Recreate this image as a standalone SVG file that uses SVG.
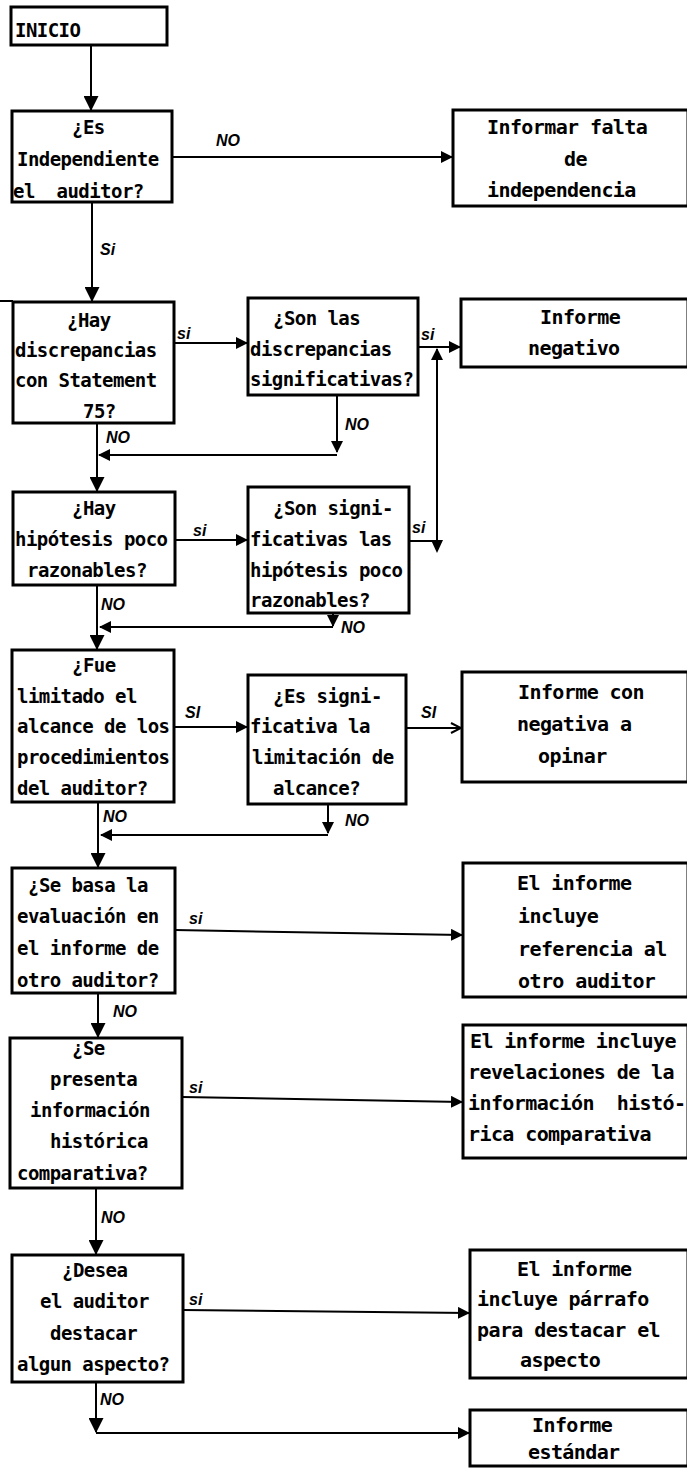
<svg xmlns="http://www.w3.org/2000/svg" width="687" height="1470" viewBox="0 0 687 1470" xml:space="preserve">
<style>
.box{fill:#fff;stroke:#000;stroke-width:3}
.ln{fill:none;stroke:#000;stroke-width:2}
.t{font-family:"DejaVu Sans Mono","Liberation Mono",monospace;font-size:19px;letter-spacing:-0.55px;font-weight:bold;fill:#000;white-space:pre}
.tr{font-size:20px;letter-spacing:-0.6px}
.lb{font-family:"Liberation Sans",Arial,sans-serif;font-size:16px;font-weight:bold;font-style:italic;fill:#000}
</style>
<defs>
<marker id="ah" viewBox="0 0 12 12" refX="11" refY="6" markerWidth="12" markerHeight="12" markerUnits="userSpaceOnUse" orient="auto"><path d="M0,0 L12,6 L0,12 z" fill="#000"/></marker>
<marker id="ahv" viewBox="0 0 14 14" refX="13" refY="7" markerWidth="15" markerHeight="15" markerUnits="userSpaceOnUse" orient="auto"><path d="M0,0 L14,7 L0,14 z" fill="#000"/></marker>
<marker id="ao" viewBox="0 0 12 12" refX="11" refY="6" markerWidth="12" markerHeight="12" markerUnits="userSpaceOnUse" orient="auto"><path d="M1,1 L11,6 L1,11" fill="none" stroke="#000" stroke-width="2"/></marker>
</defs>
<rect width="687" height="1470" fill="#fff"/>

<g id="connectors">
<path class="ln" d="M91,45 V110" marker-end="url(#ahv)"/>
<path class="ln" d="M172,157 H452" marker-end="url(#ah)"/>
<path class="ln" d="M92,202 V301" marker-end="url(#ahv)"/>
<path class="ln" d="M174,343 H247" marker-end="url(#ah)"/>
<path class="ln" d="M418,347 H460" marker-end="url(#ah)"/>
<path class="ln" d="M409,541 H437 V349" marker-end="url(#ah)"/>
<polygon points="431,540 443,540 437,553" fill="#000"/>
<path class="ln" d="M337,395 V452" marker-end="url(#ah)"/>
<path class="ln" d="M337,455 H99" marker-end="url(#ah)"/>
<path class="ln" d="M97,423 V491" marker-end="url(#ahv)"/>
<path class="ln" d="M175,540 H247" marker-end="url(#ah)"/>
<path class="ln" d="M333,613 V626" marker-end="url(#ah)"/>
<path class="ln" d="M333,627 H100" marker-end="url(#ah)"/>
<path class="ln" d="M97,585 V649" marker-end="url(#ahv)"/>
<path class="ln" d="M174,727 H247" marker-end="url(#ah)"/>
<path class="ln" d="M406,728 H461" marker-end="url(#ao)"/>
<path class="ln" d="M328,804 V833" marker-end="url(#ah)"/>
<path class="ln" d="M328,835 H101" marker-end="url(#ah)"/>
<path class="ln" d="M98,802 V867" marker-end="url(#ahv)"/>
<path class="ln" d="M175,930 L462,935" marker-end="url(#ah)"/>
<path class="ln" d="M98,993 V1037" marker-end="url(#ahv)"/>
<path class="ln" d="M182,1097 L462,1102" marker-end="url(#ah)"/>
<path class="ln" d="M96,1188 V1254" marker-end="url(#ahv)"/>
<path class="ln" d="M183,1310 L469,1313" marker-end="url(#ah)"/>
<path class="ln" d="M96,1382 V1432" marker-end="url(#ahv)"/>
<path class="ln" d="M96,1433 H469" marker-end="url(#ah)"/>

<text class="lb" x="216" y="146">NO</text>
<text class="lb" x="100" y="255">Si</text>
<text class="lb" x="177" y="339">si</text>
<text class="lb" x="421" y="340">si</text>
<text class="lb" x="345" y="430">NO</text>
<text class="lb" x="106" y="443">NO</text>
<text class="lb" x="193" y="536">si</text>
<text class="lb" x="412" y="533">si</text>
<text class="lb" x="101" y="610">NO</text>
<text class="lb" x="341" y="633">NO</text>
<text class="lb" x="185" y="718">SI</text>
<text class="lb" x="421" y="718">SI</text>
<text class="lb" x="103" y="822">NO</text>
<text class="lb" x="345" y="826">NO</text>
<text class="lb" x="189" y="924">si</text>
<text class="lb" x="113" y="1017">NO</text>
<text class="lb" x="189" y="1093">si</text>
<text class="lb" x="101" y="1223">NO</text>
<text class="lb" x="189" y="1305">si</text>
<text class="lb" x="100" y="1405">NO</text>
</g>

<g id="inicio">
<rect class="box" x="11" y="7" width="156" height="38"/>
<text class="t" x="15" y="37">INICIO</text>
</g>

<g id="q1">
<rect class="box" x="12" y="111" width="160" height="91"/>
<text class="t" x="72" y="134">¿Es</text>
<text class="t" x="17" y="166">Independiente</text>
<text class="t" x="13" y="198">el  auditor?</text>
</g>

<g id="r1">
<rect class="box" x="453" y="110" width="235" height="96"/>
<text class="t tr" x="487" y="134">Informar falta</text>
<text class="t tr" x="564" y="166">de</text>
<text class="t tr" x="487" y="197">independencia</text>
</g>

<g id="q2">
<rect class="box" x="13" y="302" width="161" height="121"/>
<path class="ln" d="M0,301 H13" stroke-width="3"/>
<text class="t" x="67" y="327">¿Hay</text>
<text class="t" x="15" y="357">discrepancias</text>
<text class="t" x="15" y="387">con Statement</text>
<text class="t" x="83" y="418">75?</text>
</g>

<g id="q3">
<rect class="box" x="248" y="298" width="170" height="97"/>
<text class="t" x="273" y="325">¿Son las</text>
<text class="t" x="250" y="356">discrepancias</text>
<text class="t" x="250" y="386">significativas?</text>
</g>

<g id="r2">
<rect class="box" x="461" y="299" width="227" height="68"/>
<text class="t tr" x="540" y="324">Informe</text>
<text class="t tr" x="528" y="355">negativo</text>
</g>

<g id="q4">
<rect class="box" x="13" y="492" width="162" height="93"/>
<text class="t" x="72" y="515">¿Hay</text>
<text class="t" x="15" y="546">hipótesis poco</text>
<text class="t" x="27" y="577">razonables?</text>
</g>

<g id="q5">
<rect class="box" x="248" y="487" width="161" height="126"/>
<text class="t" x="273" y="515">¿Son signi-</text>
<text class="t" x="250" y="546">ficativas las</text>
<text class="t" x="250" y="577">hipótesis poco</text>
<text class="t" x="250" y="607">razonables?</text>
</g>

<g id="q6">
<rect class="box" x="12" y="650" width="162" height="152"/>
<text class="t" x="72" y="672">¿Fue</text>
<text class="t" x="17" y="703">limitado el</text>
<text class="t" x="17" y="733">alcance de los</text>
<text class="t" x="17" y="764">procedimientos</text>
<text class="t" x="17" y="795">del auditor?</text>
</g>

<g id="q7">
<rect class="box" x="248" y="675" width="158" height="129"/>
<text class="t" x="273" y="703">¿Es signi-</text>
<text class="t" x="250" y="733">ficativa la</text>
<text class="t" x="252" y="764">limitación de</text>
<text class="t" x="273" y="795">alcance?</text>
</g>

<g id="r3">
<rect class="box" x="462" y="672" width="226" height="110"/>
<text class="t tr" x="518" y="699">Informe con</text>
<text class="t tr" x="517" y="731">negativa a</text>
<text class="t tr" x="538" y="763">opinar</text>
</g>

<g id="q8">
<rect class="box" x="12" y="868" width="163" height="125"/>
<text class="t" x="28" y="892">¿Se basa la</text>
<text class="t" x="17" y="923">evaluación en</text>
<text class="t" x="17" y="955">el informe de</text>
<text class="t" x="17" y="987">otro auditor?</text>
</g>

<g id="r4">
<rect class="box" x="463" y="863" width="225" height="134"/>
<text class="t tr" x="517" y="890">El informe</text>
<text class="t tr" x="518" y="923">incluye</text>
<text class="t tr" x="518" y="956">referencia al</text>
<text class="t tr" x="518" y="988">otro auditor</text>
</g>

<g id="q9">
<rect class="box" x="10" y="1038" width="172" height="150"/>
<text class="t" x="72" y="1055">¿Se</text>
<text class="t" x="50" y="1086">presenta</text>
<text class="t" x="30" y="1117">información</text>
<text class="t" x="50" y="1148">histórica</text>
<text class="t" x="17" y="1180">comparativa?</text>
</g>

<g id="r5">
<rect class="box" x="463" y="1025" width="225" height="133"/>
<text class="t tr" x="470" y="1048">El informe incluye</text>
<text class="t tr" x="468" y="1079">revelaciones de la</text>
<text class="t tr" x="468" y="1110">información  histó-</text>
<text class="t tr" x="468" y="1141">rica comparativa</text>
</g>

<g id="q10">
<rect class="box" x="12" y="1255" width="171" height="127"/>
<text class="t" x="62" y="1277">¿Desea</text>
<text class="t" x="40" y="1308">el auditor</text>
<text class="t" x="50" y="1340">destacar</text>
<text class="t" x="17" y="1371">algun aspecto?</text>
</g>

<g id="r6">
<rect class="box" x="470" y="1250" width="218" height="128"/>
<text class="t tr" x="517" y="1276">El informe</text>
<text class="t tr" x="477" y="1306">incluye párrafo</text>
<text class="t tr" x="477" y="1337">para destacar el</text>
<text class="t tr" x="520" y="1367">aspecto</text>
</g>

<g id="r7">
<rect class="box" x="470" y="1410" width="218" height="56"/>
<text class="t tr" x="532" y="1432">Informe</text>
<text class="t tr" x="528" y="1459">estándar</text>
</g>
</svg>
